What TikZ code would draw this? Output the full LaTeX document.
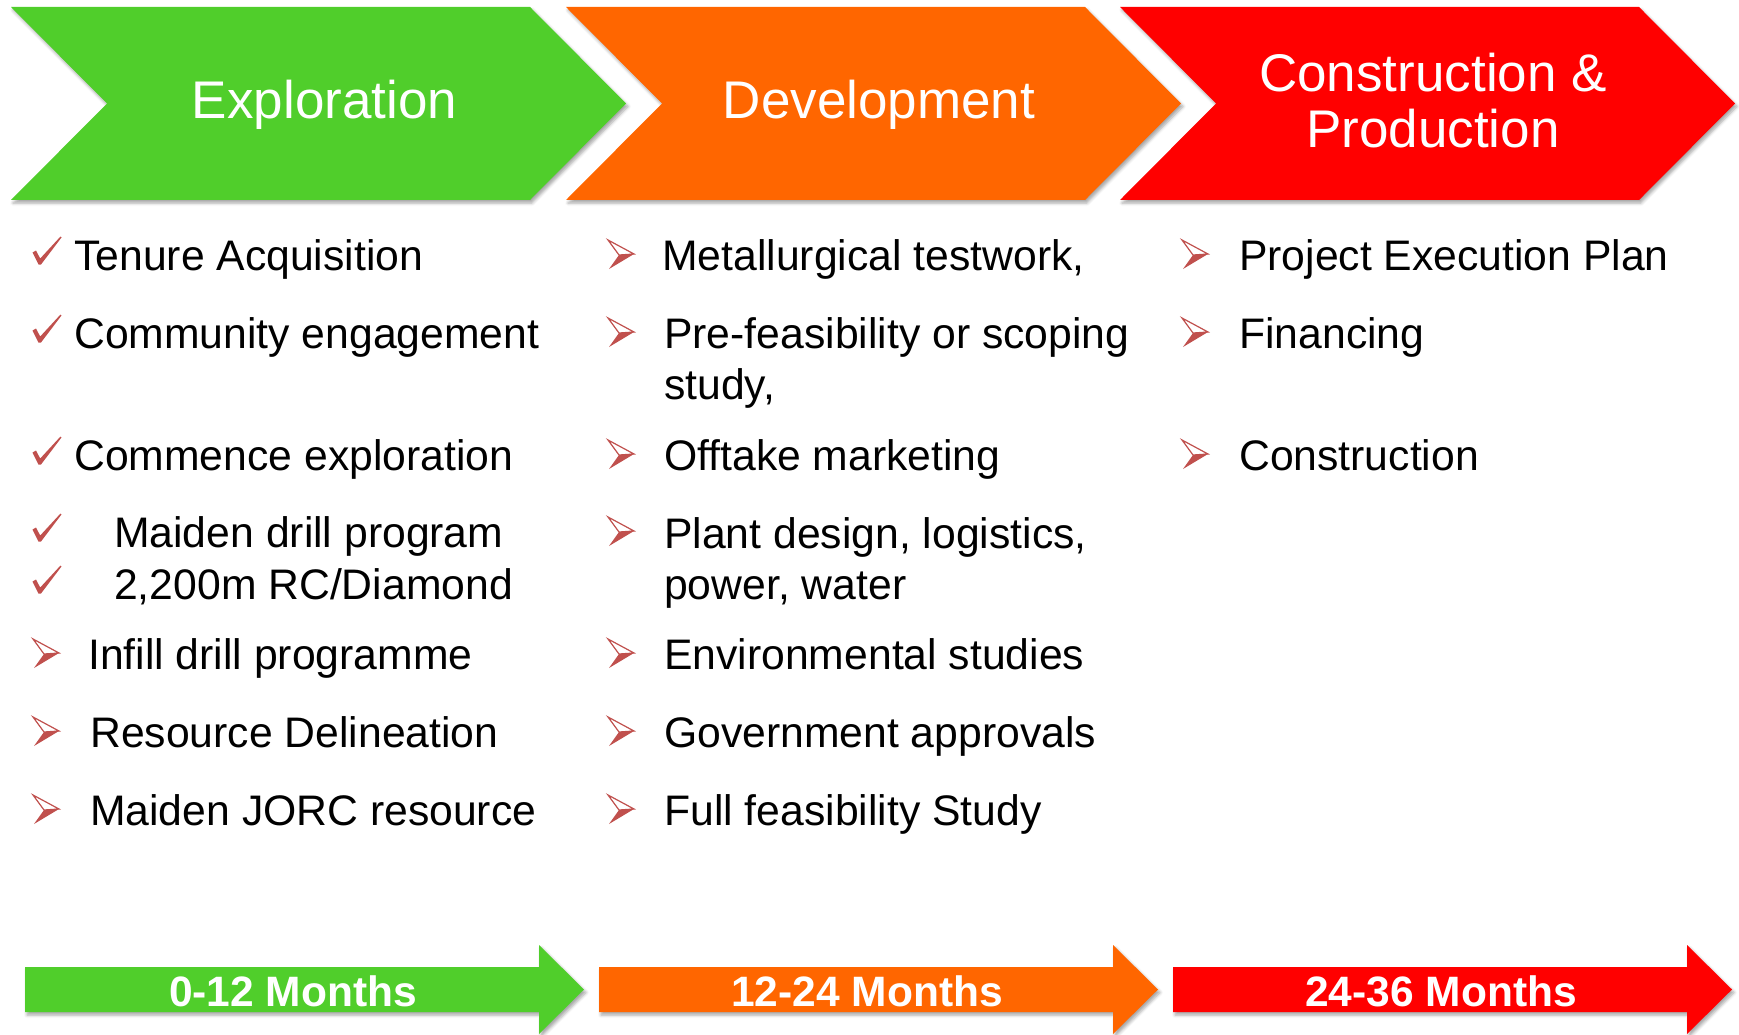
\documentclass[tikz,border=0pt]{standalone}
\usepackage{fontspec}
\setmainfont{Liberation Sans}
\usetikzlibrary{shadows.blur}

\definecolor{explgreen}{RGB}{80,206,43}
\definecolor{devorange}{RGB}{255,102,0}
\definecolor{prodred}{RGB}{255,0,0}
\definecolor{bulletred}{RGB}{192,80,77}

\tikzset{
    checkmark/.pic = {
        \fill[bulletred] (-0.5,-17.5) -- (3,-19.5) -- (7.2,-11.5) -- (27.5,-33.5)
            -- (28.5,-32.5) -- (8,-5.5) -- (5.5,-5.5) -- cycle;
    },
    arrowbullet/.pic = {
        \fill[bulletred] (11,-15) -- (26,-16) -- (1,-1) -- cycle;
        \draw[bulletred, line width=1.2pt, fill=white] (0,-30) -- (26,-16) -- (11,-15) -- cycle;
    }
}

% big phase chevron, #1 = left edge
\newcommand{\chevron}[2]{%
    \fill[#2, softshadow] (#1,7) -- (#1+519,7) -- (#1+615,103.5) -- (#1+519,200)
        -- (#1,200) -- (#1+96,103.5) -- cycle;}
% timeline arrow, #1 = left edge
\newcommand{\timearrow}[2]{%
    \fill[#2, softshadow] (#1,967) -- (#1+514,967) -- (#1+514,945) -- (#1+559,989.5)
        -- (#1+514,1034) -- (#1+514,1012) -- (#1,1012) -- cycle;}

\begin{document}
\begin{tikzpicture}[x=1pt, y=-1pt,
    softshadow/.style = {blur shadow={shadow xshift=2pt, shadow yshift=-3pt, shadow blur radius=3pt, shadow opacity=35}},
    head/.style = {text=white, inner sep=0pt, align=center, font=\fontsize{53}{56}\selectfont},
    item/.style = {anchor=base west, inner sep=0pt, align=left, font=\fontsize{42.7}{51}\selectfont},
    period/.style = {anchor=base, inner sep=0pt, text=white, font=\fontsize{42.5}{42}\selectfont\bfseries}]

    \useasboundingbox (0,0) rectangle (1739,1035);

    % phases
    \chevron{11}{explgreen}
    \chevron{566}{devorange}
    \chevron{1120}{prodred}
    \node[head, anchor=base] (expl) at (324.5,119) {Exploration};
    \node[head, anchor=base] (dev) at (879,119) {Development};
    \node[head] (prod) at (1433,100.5) {Construction \&\\Production};

    % exploration
    \pic at (33,270) {checkmark};
    \node[item] (e1) at (74,270) {Tenure Acquisition};
    \pic at (33,348) {checkmark};
    \node[item] (e2) at (74,348) {Community engagement};
    \pic at (33,470) {checkmark};
    \node[item] (e3) at (74,470) {Commence exploration};
    \pic at (33,547) {checkmark};
    \node[item] (e4) at (114,547) {Maiden drill program};
    \pic at (33,599) {checkmark};
    \node[item] (e5) at (114,599) {2,200m RC/Diamond};
    \pic at (33,669) {arrowbullet};
    \node[item] (e6) at (88,669) {Infill drill programme};
    \pic at (33,747) {arrowbullet};
    \node[item] (e7) at (90,747) {Resource Delineation};
    \pic at (33,825) {arrowbullet};
    \node[item] (e8) at (90,825) {Maiden JORC resource};

    % development (two-line items sit on their last baseline)
    \pic at (608,270) {arrowbullet};
    \node[item] (d1) at (662,270) {Metallurgical testwork,};
    \pic at (608,348) {arrowbullet};
    \node[item] (d2) at (664,399) {Pre-feasibility or scoping\\study,};
    \pic at (608,470) {arrowbullet};
    \node[item] (d3) at (664,470) {Offtake marketing};
    \pic at (608,547) {arrowbullet};
    \node[item] (d4) at (664,599) {Plant design, logistics,\\power, water};
    \pic at (608,669) {arrowbullet};
    \node[item] (d5) at (664,669) {Environmental studies};
    \pic at (608,747) {arrowbullet};
    \node[item] (d6) at (664,747) {Government approvals};
    \pic at (608,825) {arrowbullet};
    \node[item] (d7) at (664,825) {Full feasibility Study};

    % construction & production
    \pic at (1182,270) {arrowbullet};
    \node[item] (c1) at (1239,270) {Project Execution Plan};
    \pic at (1182,348) {arrowbullet};
    \node[item] (c2) at (1239,348) {Financing};
    \pic at (1182,470) {arrowbullet};
    \node[item] (c3) at (1239,470) {Construction};

    % timeline
    \timearrow{25}{explgreen}
    \timearrow{599}{devorange}
    \timearrow{1173}{prodred}
    \node[period] (m1) at (293,1006) {0-12 Months};
    \node[period] (m2) at (867,1006) {12-24 Months};
    \node[period] (m3) at (1441,1006) {24-36 Months};

\end{tikzpicture}
\end{document}
